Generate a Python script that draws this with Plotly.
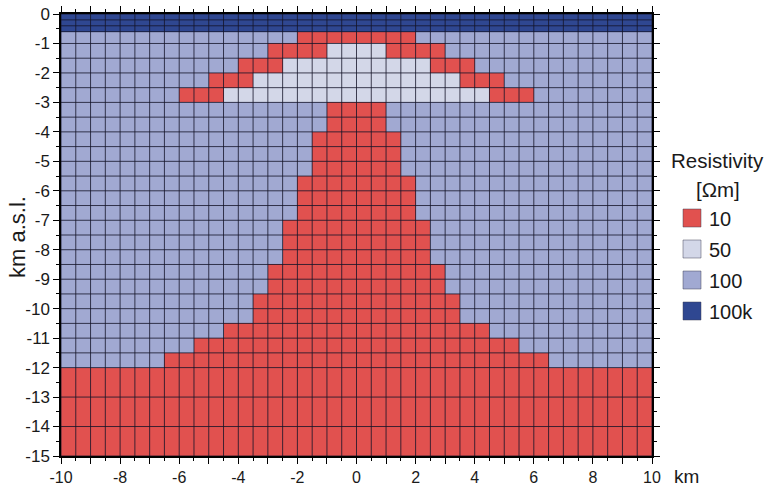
import numpy as np
import plotly.graph_objects as go

# Resistivity classes (Ohm-m) and their fill colours
classes = ["10", "50", "100", "100k"]
class_colors = ["#E1514F", "#D3D7E8", "#A1A9D2", "#2F4791"]

# Model mesh: horizontal cell edges (km) and vertical layer edges (km a.s.l.)
x_edges = np.arange(-10.0, 10.25, 0.5)
y_edges = [0.0, -0.2, -0.4, -0.6, -1.0, -1.5, -2.0, -2.5, -3.0, -3.5, -4.0,
           -4.5, -5.0, -5.5, -6.0, -6.5, -7.0, -7.5, -8.0, -8.5, -9.0, -9.5,
           -10.0, -10.5, -11.0, -11.5, -12.0, -13.0, -14.0, -15.0]

# Per layer (top to bottom): number of resistive surface layers,
# half-width of the 10 Ohm-m body and half-width of the 50 Ohm-m core
surface_layers = 3
conductor_half = [0, 0, 0, 2, 3, 4, 5, 6,
                  1, 1, 1.5, 1.5, 1.5, 2, 2, 2, 2.5, 2.5, 2.5,
                  3, 3, 3.5, 3.5, 4.5, 5.5, 6.5, 10, 10, 10]
core_half = [0, 0, 0, 0, 1, 2.5, 3.5, 4.5,
             0, 0, 0, 0, 0, 0, 0, 0, 0, 0, 0,
             0, 0, 0, 0, 0, 0, 0, 0, 0, 0]

x_centers = 0.5 * (x_edges[:-1] + x_edges[1:])
z = []
for i in range(len(y_edges) - 1):
    row = []
    for xc in x_centers:
        if i < surface_layers:
            row.append(3)
        elif abs(xc) < core_half[i]:
            row.append(1)
        elif abs(xc) < conductor_half[i]:
            row.append(0)
        else:
            row.append(2)
    z.append(row)

# ascending edges for the heatmap bricks
y_asc = y_edges[::-1]
z_asc = z[::-1]

n = len(classes)
colorscale = []
for k, c in enumerate(class_colors):
    colorscale.append([k / n, c])
    colorscale.append([(k + 1) / n, c])

fig = go.Figure()
fig.add_trace(go.Heatmap(
    x=list(x_edges), y=y_asc, z=z_asc,
    zmin=-0.5, zmax=n - 0.5, colorscale=colorscale,
    showscale=False, hoverinfo="skip",
))

# mesh lines over the cells
gx, gy = [], []
for xe in x_edges:
    gx += [xe, xe, None]
    gy += [y_edges[0], y_edges[-1], None]
for ye in y_edges:
    gx += [x_edges[0], x_edges[-1], None]
    gy += [ye, ye, None]
fig.add_trace(go.Scatter(
    x=gx, y=gy, mode="lines",
    line=dict(color="rgba(20,20,40,0.8)", width=1),
    hoverinfo="skip", showlegend=False,
))

font_family = "Liberation Sans, Arial, sans-serif"
text_color = "#1a1a1a"

x_ticks = list(range(-10, 11))
x_text = [str(v) if v % 2 == 0 else "" for v in x_ticks]
y_ticks = list(range(-15, 1))

fig.update_xaxes(
    range=[-10, 10], tickvals=x_ticks, ticktext=x_text,
    ticks="outside", ticklen=6, tickwidth=1.2, tickcolor="black",
    minor=dict(dtick=0.5, ticks="outside", ticklen=3, tickcolor="black", tickwidth=1),
    showline=True, linecolor="black", linewidth=1.5, mirror="ticks",
    showgrid=False, zeroline=False, ticklabelstandoff=0, automargin=False,
    tickfont=dict(family=font_family, size=16, color=text_color),
)
fig.update_yaxes(
    range=[-15, 0], tickvals=y_ticks, ticktext=[str(v) for v in y_ticks],
    ticks="outside", ticklen=6, tickwidth=1.2, tickcolor="black",
    minor=dict(dtick=0.5, ticks="outside", ticklen=3, tickcolor="black", tickwidth=1),
    showline=True, linecolor="black", linewidth=1.5, mirror="ticks",
    showgrid=False, zeroline=False, automargin=False,
    tickfont=dict(family=font_family, size=17, color=text_color),
)

W, H = 767, 486
ml, mr, mt, mb = 61, 115, 14, 30
pw, ph = W - ml - mr, H - mt - mb


def px_x(px):
    return (px - ml) / pw


def px_y(py):
    return (H - mb - py) / ph


annotations = [
    dict(text="km a.s.l.", x=px_x(17), y=px_y(237), xref="paper", yref="paper",
         textangle=-90, showarrow=False, xanchor="center", yanchor="middle",
         font=dict(family=font_family, size=22, color=text_color)),
    dict(text="km", x=px_x(672), y=px_y(476), xref="paper", yref="paper",
         showarrow=False, xanchor="left", yanchor="middle",
         font=dict(family=font_family, size=19, color=text_color)),
    dict(text="Resistivity", x=px_x(718), y=px_y(160), xref="paper", yref="paper",
         showarrow=False, xanchor="center", yanchor="middle",
         font=dict(family=font_family, size=20.5, color=text_color)),
    dict(text="[\u03a9m]", x=px_x(718), y=px_y(189), xref="paper", yref="paper",
         showarrow=False, xanchor="center", yanchor="middle",
         font=dict(family=font_family, size=20.5, color=text_color)),
]

shapes = []
legend_top = [209, 240, 271, 302]
for k, (lab, col) in enumerate(zip(classes, class_colors)):
    t = legend_top[k]
    shapes.append(dict(type="rect", xref="paper", yref="paper",
                       x0=px_x(683), x1=px_x(701), y0=px_y(t + 18), y1=px_y(t),
                       fillcolor=col, line=dict(color="rgba(60,60,80,0.6)", width=0.8)))
    annotations.append(dict(text=lab, x=px_x(707), y=px_y(t + 9.5), xref="paper", yref="paper",
                            showarrow=False, xanchor="left", yanchor="middle",
                            font=dict(family=font_family, size=20, color=text_color)))

fig.update_layout(
    width=W, height=H,
    margin=dict(l=ml, r=mr, t=mt, b=mb, autoexpand=False),
    plot_bgcolor="white", paper_bgcolor="white",
    annotations=annotations, shapes=shapes,
    showlegend=False,
)

fig.write_html("out.html")
